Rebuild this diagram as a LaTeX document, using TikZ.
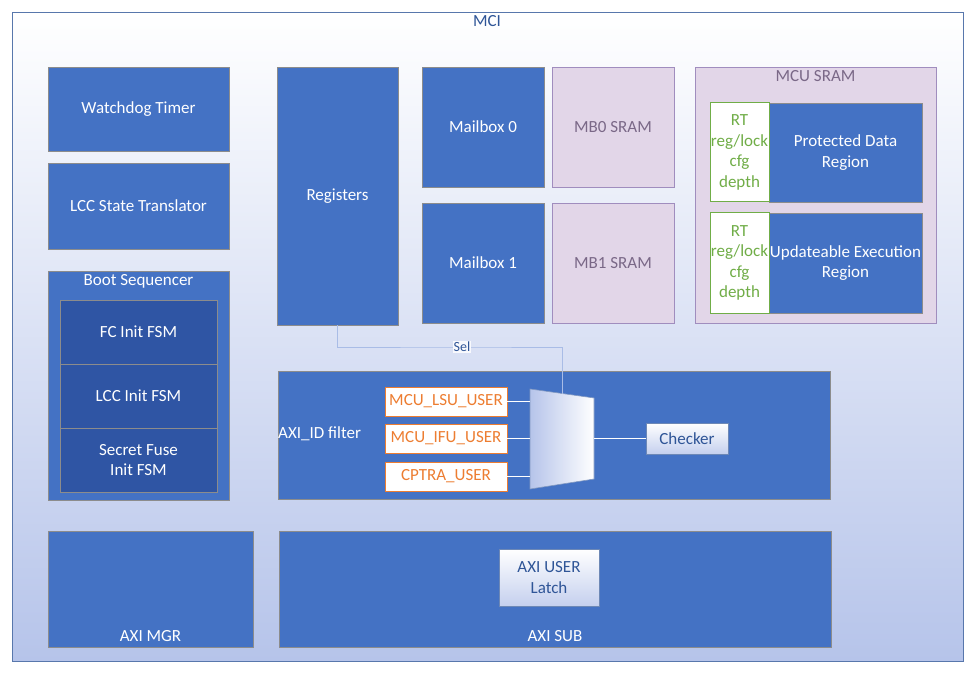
\documentclass[tikz,border=0pt]{standalone}
\usepackage{fontspec}
\setmainfont{Carlito}
\usetikzlibrary{calc}
\definecolor{bluefill}{HTML}{4472C4}
\definecolor{darkfill}{HTML}{2F55A4}
\definecolor{boxline}{HTML}{8C8C8C}
\definecolor{purfill}{HTML}{E2D6E8}
\definecolor{purline}{HTML}{A08DBE}
\definecolor{purtext}{HTML}{7A6887}
\definecolor{grn}{HTML}{70AD47}
\definecolor{orng}{HTML}{ED7D31}
\definecolor{dblue}{HTML}{2F5597}
\definecolor{selline}{HTML}{A9BCE6}
\definecolor{lightb}{HTML}{B6C4EA}
\begin{document}
\begin{tikzpicture}[x=1pt,y=-1pt,
  txt/.style={font=\fontsize{17}{20.5}\selectfont},
  bluebox/.style={draw=boxline,line width=0.8pt,fill=bluefill,text=white,txt,inner sep=0pt},
  darkbox/.style={draw=boxline,line width=0.8pt,fill=darkfill,text=white,txt,inner sep=0pt},
  purbox/.style={draw=purline,line width=0.8pt,fill=purfill,text=purtext,txt,inner sep=0pt},
  rtbox/.style={draw=grn,line width=1pt,fill=white,text=grn,txt,align=center,inner sep=0pt},
  userbox/.style={draw=orng,line width=1pt,fill=white,text=orng,txt,inner sep=0pt},
  gradbox/.style={draw=dblue!70,line width=0.6pt,top color=white,bottom color=lightb!80,text=dblue,txt,align=center,inner sep=0pt},
  wline/.style={draw=white,line width=0.8pt},
  lbl/.style={txt,inner sep=0pt}
]
\useasboundingbox (0,0) rectangle (976,676);
% outer MCI
\path[top color=white,bottom color=lightb] (12,12) rectangle (963,661);
\draw[dblue!80,line width=0.8pt] (12,12) rectangle (963,661);
\node[lbl,text=dblue] (mci) at (487,21) {MCI};

% left column
\path[bluebox] (48,67) rectangle (229,151) node[midway] (wdt) {Watchdog Timer};
\path[bluebox] (48,163) rectangle (229,249) node[midway] (lcc) {LCC State Translator};
\path[bluebox] (48,271) rectangle (229,500);
\node[lbl,text=white] (boot) at (138.5,281) {Boot Sequencer};
\path[darkbox] (60,300) rectangle (217,364) node[midway] (fc) {FC Init FSM};
\path[darkbox] (60,364) rectangle (217,428) node[midway] (lccfsm) {LCC Init FSM};
\path[darkbox] (60,428) rectangle (217,492) node[midway,align=center] (sf) {Secret Fuse\\Init FSM};

% registers & mailboxes
\path[bluebox] (277,67) rectangle (398,325);
\node[lbl,text=white] (reg) at (337.5,196) {Registers};
\coordinate (regS) at (337.5,325);
\path[bluebox] (422,67) rectangle (544,187) node[midway] (mb0) {Mailbox 0};
\path[bluebox] (422,203) rectangle (544,323) node[midway] (mb1) {Mailbox 1};
\path[purbox] (552,67) rectangle (674,187) node[midway] (mb0s) {MB0 SRAM};
\path[purbox] (552,203) rectangle (674,323) node[midway] (mb1s) {MB1 SRAM};

% MCU SRAM
\path[purbox] (695,67) rectangle (936,323);
\node[lbl,text=purtext] (mcus) at (815.5,76) {MCU SRAM};
\path[bluebox] (769,103) rectangle (922,202) node[midway,align=center] (pdr) {Protected Data\\Region};
\path[rtbox] (710,103) rectangle (769,202) node[midway] (rt1) {RT\\reg/lock\\cfg\\depth};
\path[bluebox] (769,213) rectangle (922,313) node[midway,align=center] (uer) {Updateable Execution\\Region};
\path[rtbox] (710,213) rectangle (769,313) node[midway] (rt2) {RT\\reg/lock\\cfg\\depth};

% AXI_ID filter
\path[bluebox] (278,371) rectangle (830,499);
\node[lbl,text=white,anchor=west] (axiid) at (278,434) {AXI\_ID filter};
\path[userbox] (385,387) rectangle (507,416) node[midway] (lsu) {MCU\_LSU\_USER};
\path[userbox] (385,424) rectangle (507,453) node[midway] (ifu) {MCU\_IFU\_USER};
\path[userbox] (385,462) rectangle (507,491) node[midway] (cpt) {CPTRA\_USER};
% mux
\coordinate (m1) at (530,389);
\coordinate (m2) at (594,398);
\coordinate (m3) at (594,479);
\coordinate (m4) at (530,489);
\shade[left color=lightb,right color=white,draw=dblue!60,line width=0.6pt] (m1) -- (m2) -- (m3) -- (m4) -- cycle;
\coordinate (mux) at (562,439);
\coordinate (muxtop) at (562,393.5);
\node[gradbox,minimum width=82pt,minimum height=31pt] (chk) at (687,438.5) {Checker};
\draw[wline] (lsu.east) -- (lsu.east -| m1);
\draw[wline] (ifu.east) -- (ifu.east -| m1);
\draw[wline] (cpt.east) -- (cpt.east -| m1);
\draw[wline] (chk.west -| m2) -- (chk.west);
% Sel
\draw[selline,line width=0.8pt] (regS) |- (462,347) -| (muxtop);
\node[lbl,text=dblue,fill=white!90!lightb,inner sep=1pt,font=\fontsize{14}{16}\selectfont] (sel) at (462,347) {Sel};

% AXI MGR / SUB
\path[bluebox] (48,531) rectangle (253,647);
\node[lbl,text=white] (mgr) at (150.5,636) {AXI MGR};
\path[bluebox] (279,531) rectangle (831,647);
\node[lbl,text=white] (sub) at (555,636) {AXI SUB};
\node[gradbox,minimum width=100pt,minimum height=57pt] (latch) at (549,577.5) {AXI USER\\Latch};
\end{tikzpicture}
\end{document}
